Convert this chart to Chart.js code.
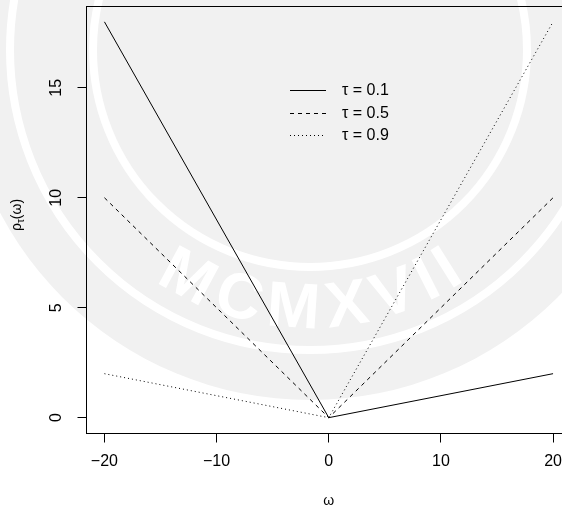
<!DOCTYPE html>
<html>
<head>
<meta charset="utf-8">
<script src="https://cdn.jsdelivr.net/npm/chart.js"></script>
<style>
  html, body { margin: 0; padding: 0; background: #fff; overflow: hidden; }
  .chart-box { position: relative; width: 580px; height: 511px; }
</style>
</head>
<body>
<div class="chart-box"><canvas id="chartRho"></canvas></div>
<script>
  // check function rho_tau(w) at w = -20, 0, 20
  const omega = [-20, 0, 20];
  const taus = [0.1, 0.5, 0.9];
  const rhoTau01 = [18, 0, 2];
  const rhoTau05 = [10, 0, 10];
  const rhoTau09 = [2, 0, 18];
  const xTicks = [-20, -10, 0, 10, 20];
  const yTicks = [0, 5, 10, 15];

  const FONT = "'Liberation Sans', Arial, sans-serif";
  const dashes = [[], [4, 4], [1, 3]];
  const series = [rhoTau01, rhoTau05, rhoTau09];

  const toPoints = ys => omega.map((x, i) => ({ x: x, y: ys[i] }));

  // faint seal in the background
  const sealBackground = {
    id: 'sealBackground',
    beforeDraw(chart) {
      const ctx = chart.ctx;
      const cx = 310, cy = 50;
      ctx.save();
      ctx.fillStyle = '#fff';
      ctx.fillRect(0, 0, chart.width, chart.height);
      ctx.fillStyle = '#f1f1f1';
      ctx.beginPath();
      ctx.arc(cx, cy, 350, 0, Math.PI * 2);
      ctx.fill();
      ctx.strokeStyle = '#fff';
      ctx.lineWidth = 8;
      [217, 300].forEach(r => {
        ctx.beginPath();
        ctx.arc(cx, cy, r, 0, Math.PI * 2);
        ctx.stroke();
      });
      // lettering along the arc
      const word = 'MCMXVII';
      const r = 260;
      ctx.font = 'bold 64px ' + FONT;
      ctx.fillStyle = '#fff';
      ctx.textAlign = 'center';
      ctx.textBaseline = 'middle';
      const widths = [...word].map(c => ctx.measureText(c).width + 6);
      const total = widths.reduce((a, b) => a + b, 0);
      let ang = Math.PI / 2 + total / r / 2;
      [...word].forEach((c, i) => {
        const a = ang - widths[i] / r / 2;
        ctx.save();
        ctx.translate(cx + r * Math.cos(a), cy + r * Math.sin(a));
        ctx.rotate(a - Math.PI / 2);
        ctx.fillText(c, 0, 0);
        ctx.restore();
        ang -= widths[i] / r;
      });
      ctx.restore();
    }
  };

  // top of the box, rotated y labels, axis titles and legend
  const rDecor = {
    id: 'rDecor',
    afterDraw(chart) {
      const ctx = chart.ctx;
      const a = chart.chartArea;
      const ys = chart.scales.y;
      ctx.save();
      ctx.strokeStyle = '#000';
      ctx.lineWidth = 1;
      ctx.beginPath();
      ctx.moveTo(a.left, Math.round(a.top) + 0.5);
      ctx.lineTo(a.right, Math.round(a.top) + 0.5);
      ctx.stroke();

      ctx.fillStyle = '#000';
      ctx.font = '16px ' + FONT;
      ctx.textAlign = 'center';
      ctx.textBaseline = 'middle';
      yTicks.forEach(v => {
        ctx.save();
        ctx.translate(57, ys.getPixelForValue(v));
        ctx.rotate(-Math.PI / 2);
        ctx.fillText(String(v), 0, 0);
        ctx.restore();
      });

      // x title
      ctx.font = '14px ' + FONT;
      ctx.fillText('ω', chart.scales.x.getPixelForValue(0), 501);

      // y title: rho with subscript tau
      ctx.save();
      ctx.translate(17, 215);
      ctx.rotate(-Math.PI / 2);
      ctx.textAlign = 'left';
      ctx.font = '14px ' + FONT;
      const w1 = ctx.measureText('ρ').width;
      ctx.font = '10px ' + FONT;
      const w2 = ctx.measureText('τ').width;
      ctx.font = '14px ' + FONT;
      const w3 = ctx.measureText('(ω)').width;
      let x0 = -(w1 + w2 + w3) / 2;
      ctx.fillText('ρ', x0, 0);
      ctx.font = '10px ' + FONT;
      ctx.fillText('τ', x0 + w1, 4);
      ctx.font = '14px ' + FONT;
      ctx.fillText('(ω)', x0 + w1 + w2, 0);
      ctx.restore();

      // legend
      chart.data.datasets.forEach((ds, i) => {
        const y = Math.round(90 + 22.5 * i) + 0.5;
        ctx.setLineDash(ds.borderDash);
        ctx.beginPath();
        ctx.moveTo(290, y);
        ctx.lineTo(326, y);
        ctx.stroke();
        ctx.setLineDash([]);
        ctx.textAlign = 'left';
        ctx.font = '16px ' + FONT;
        ctx.fillText(ds.label, 342, y);
      });
      ctx.restore();
    }
  };

  new Chart(document.getElementById('chartRho'), {
    type: 'line',
    data: {
      datasets: series.map((s, i) => ({
        label: 'τ = ' + taus[i],
        data: toPoints(s),
        borderColor: '#000',
        borderWidth: 1,
        borderDash: dashes[i],
        pointRadius: 0,
        tension: 0,
        fill: false
      }))
    },
    options: {
      responsive: true,
      maintainAspectRatio: false,
      animation: false,
      events: [],
      layout: { padding: { top: 6, right: 9, left: 0, bottom: 0 } },
      plugins: { legend: { display: false }, tooltip: { enabled: false } },
      scales: {
        x: {
          type: 'linear',
          min: -21.6,
          max: 21.6,
          afterBuildTicks: s => { s.ticks = xTicks.map(v => ({ value: v })); },
          afterFit: s => { s.height = 77.5; },
          grid: { drawOnChartArea: false, drawTicks: true, tickLength: 9, color: '#000' },
          border: { display: true, color: '#000', width: 1 },
          ticks: {
            color: '#000',
            padding: 9,
            maxRotation: 0,
            font: { family: FONT, size: 16 },
            callback: v => String(v).replace('-', '\u2212')
          }
        },
        y: {
          type: 'linear',
          min: -0.72,
          max: 18.72,
          afterBuildTicks: s => { s.ticks = yTicks.map(v => ({ value: v })); },
          afterFit: s => { s.width = 86.5; },
          grid: { drawOnChartArea: false, drawTicks: true, tickLength: 9, color: '#000' },
          border: { display: true, color: '#000', width: 1 },
          ticks: { display: false }
        }
      }
    },
    plugins: [sealBackground, rDecor]
  });
</script>
</body>
</html>
